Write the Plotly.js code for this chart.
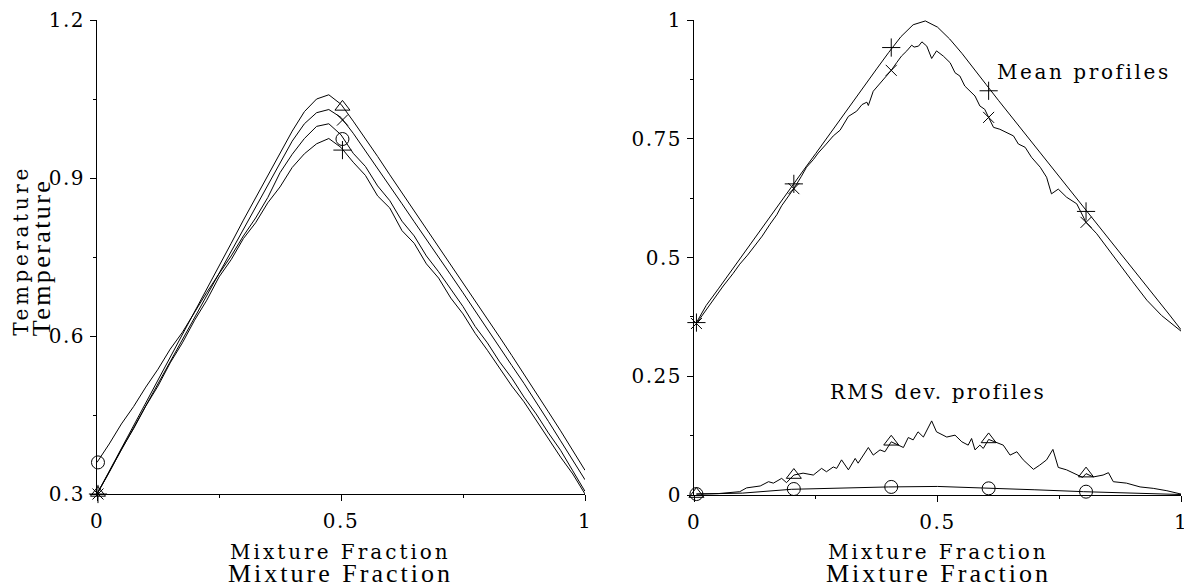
<!DOCTYPE html>
<html><head><meta charset="utf-8">
<script src="https://cdn.plot.ly/plotly-3.0.1.min.js"></script>
<style>html,body{margin:0;padding:0;background:#fff}#chart{width:1184px;height:588px}</style>
</head><body><div id="chart"></div>
<script>
// ---------- Left panel: Temperature vs Mixture Fraction ----------
const mixLeft = [0,0.025,0.05,0.075,0.1,0.125,0.15,0.175,0.2,0.225,0.25,0.275,0.3,0.325,0.35,0.375,0.4,0.425,0.45,0.475,0.5,0.525,0.55,0.575,0.6,0.625,0.65,0.675,0.7,0.725,0.75,0.775,0.8,0.825,0.85,0.875,0.9,0.925,0.95,0.975,1];
const tempTriangle = [0.3,0.343,0.387,0.43,0.473,0.516,0.56,0.603,0.646,0.69,0.733,0.776,0.82,0.862,0.905,0.948,0.989,1.026,1.05,1.058,1.04,1.008,0.975,0.941,0.906,0.872,0.838,0.803,0.769,0.735,0.701,0.666,0.632,0.598,0.563,0.528,0.492,0.456,0.42,0.383,0.345];
const tempCross = [0.3,0.342,0.384,0.426,0.468,0.51,0.552,0.594,0.636,0.678,0.72,0.762,0.804,0.846,0.888,0.93,0.97,1.003,1.024,1.03,1.015,0.985,0.952,0.918,0.885,0.851,0.817,0.784,0.75,0.716,0.682,0.647,0.613,0.579,0.544,0.51,0.475,0.438,0.401,0.364,0.327];
const tempCircle = [0.36,0.395,0.433,0.466,0.503,0.537,0.575,0.607,0.645,0.683,0.718,0.752,0.79,0.824,0.863,0.91,0.945,0.975,0.998,1.003,0.982,0.947,0.922,0.885,0.857,0.818,0.79,0.752,0.722,0.688,0.656,0.618,0.587,0.551,0.52,0.484,0.452,0.416,0.383,0.344,0.305];
const tempPlus = [0.3,0.341,0.385,0.424,0.467,0.505,0.549,0.587,0.63,0.668,0.712,0.745,0.785,0.815,0.853,0.883,0.92,0.946,0.965,0.975,0.958,0.93,0.905,0.866,0.843,0.8,0.776,0.737,0.71,0.672,0.642,0.605,0.573,0.54,0.505,0.475,0.44,0.407,0.37,0.338,0.3];
const leftMarkX = [0.002,0.503];
const markTriangleL = [0.302,1.035];
const markCrossL = [0.3,1.01];
const markCircleL = [0.36,0.974];
const markPlusL = [0.3,0.953];

// ---------- Right panel: mean and RMS profiles ----------
const mixMeanPlus = [0.005,0.025,0.05,0.075,0.1,0.125,0.15,0.175,0.2,0.225,0.25,0.275,0.3,0.325,0.35,0.375,0.4,0.425,0.45,0.475,0.5,0.525,0.55,0.575,0.6,0.625,0.65,0.675,0.7,0.725,0.75,0.775,0.8,0.825,0.85,0.875,0.9,0.925,0.95,0.975,1];
const meanPlus = [0.363,0.399,0.434,0.47,0.505,0.541,0.577,0.612,0.648,0.684,0.719,0.755,0.791,0.826,0.862,0.897,0.932,0.965,0.99,0.998,0.985,0.96,0.93,0.898,0.864,0.831,0.799,0.767,0.735,0.703,0.671,0.639,0.607,0.575,0.543,0.51,0.478,0.446,0.414,0.381,0.348];
const mixMeanCross = [0.005,0.03,0.06,0.08,0.094,0.11,0.122,0.14,0.156,0.17,0.18,0.19,0.205,0.22,0.231,0.245,0.255,0.27,0.286,0.3,0.317,0.334,0.345,0.355,0.358,0.368,0.378,0.389,0.405,0.416,0.426,0.437,0.447,0.452,0.461,0.468,0.478,0.488,0.498,0.512,0.526,0.536,0.546,0.556,0.567,0.577,0.587,0.597,0.605,0.615,0.628,0.642,0.656,0.666,0.68,0.693,0.711,0.724,0.734,0.748,0.765,0.786,0.805,0.827,0.847,0.87,0.9,0.93,0.96,1];
const meanCross = [0.361,0.397,0.44,0.466,0.486,0.505,0.521,0.545,0.57,0.59,0.609,0.623,0.645,0.67,0.69,0.706,0.72,0.737,0.756,0.768,0.797,0.808,0.822,0.827,0.82,0.85,0.862,0.876,0.894,0.91,0.924,0.935,0.947,0.943,0.945,0.954,0.945,0.919,0.935,0.924,0.91,0.889,0.882,0.861,0.851,0.84,0.819,0.812,0.795,0.774,0.77,0.763,0.756,0.739,0.732,0.711,0.69,0.669,0.634,0.644,0.627,0.613,0.574,0.55,0.522,0.49,0.45,0.41,0.378,0.345];
const mixRmsTri = [0.005,0.05,0.094,0.108,0.136,0.153,0.163,0.18,0.19,0.205,0.224,0.245,0.262,0.272,0.286,0.293,0.303,0.317,0.331,0.337,0.358,0.368,0.382,0.392,0.405,0.43,0.44,0.45,0.46,0.471,0.488,0.498,0.519,0.536,0.55,0.563,0.57,0.577,0.587,0.594,0.605,0.618,0.635,0.649,0.663,0.676,0.697,0.71,0.724,0.737,0.748,0.765,0.786,0.798,0.805,0.82,0.84,0.851,0.861,0.888,0.916,0.943,0.971,1];
const rmsTri = [0.002,0.003,0.007,0.015,0.019,0.028,0.025,0.035,0.026,0.042,0.046,0.042,0.056,0.049,0.059,0.056,0.074,0.053,0.077,0.067,0.1,0.084,0.095,0.091,0.112,0.1,0.121,0.116,0.133,0.122,0.156,0.133,0.122,0.126,0.112,0.105,0.119,0.095,0.105,0.098,0.117,0.112,0.105,0.084,0.091,0.074,0.054,0.063,0.074,0.096,0.058,0.053,0.042,0.037,0.045,0.038,0.042,0.047,0.028,0.025,0.017,0.014,0.009,0.002];
const mixRmsCirc = [0.005,0.1,0.2,0.3,0.4,0.5,0.6,0.7,0.8,0.9,1];
const rmsCirc = [0.002,0.004,0.012,0.015,0.017,0.018,0.015,0.011,0.007,0.004,0.001];
const rightMarkX = [0.005,0.205,0.405,0.605,0.805];
const markPlusR = [0.363,0.655,0.942,0.851,0.597];
const markCrossR = [0.361,0.645,0.894,0.795,0.574];
const markTriR = [0.002,0.042,0.112,0.117,0.045];
const markCircR = [0.002,0.0126,0.017,0.014,0.007];

const lineStyle = {color:'#000', width:1};
function ln(x, y, xa, ya){ return {x, y, xaxis:xa, yaxis:ya, type:'scatter', mode:'lines', line:lineStyle, hoverinfo:'skip', cliponaxis:false}; }
function mk(x, y, sym, size, xa, ya){ return {x, y, xaxis:xa, yaxis:ya, type:'scatter', mode:'markers', cliponaxis:false, hoverinfo:'skip',
  marker:{symbol:sym, size:size, color:'#000', line:{color:'#000', width:1}}}; }

const data = [
  ln(mixLeft, tempTriangle, 'x', 'y'),
  ln(mixLeft, tempCross, 'x', 'y'),
  ln(mixLeft, tempCircle, 'x', 'y'),
  ln(mixLeft, tempPlus, 'x', 'y'),
  mk(leftMarkX, markTriangleL, 'triangle-up-open', 13, 'x', 'y'),
  mk(leftMarkX, markCrossL, 'x-thin-open', 11, 'x', 'y'),
  mk(leftMarkX, markCircleL, 'circle-open', 13, 'x', 'y'),
  mk(leftMarkX, markPlusL, 'cross-thin-open', 13, 'x', 'y'),
  ln(mixMeanPlus, meanPlus, 'x2', 'y2'),
  ln(mixMeanCross, meanCross, 'x2', 'y2'),
  ln(mixRmsTri, rmsTri, 'x2', 'y2'),
  ln(mixRmsCirc, rmsCirc, 'x2', 'y2'),
  mk(rightMarkX, markPlusR, 'cross-thin-open', 13, 'x2', 'y2'),
  mk(rightMarkX, markCrossR, 'x-thin-open', 11, 'x2', 'y2'),
  mk(rightMarkX, markTriR, 'triangle-up-open', 13, 'x2', 'y2'),
  mk(rightMarkX, markCircR, 'circle-open', 13, 'x2', 'y2')
];

const W = 1184, H = 588;
const px = v => v / W, py = v => (H - v) / H;
const tickFont = {family:'DejaVu Serif', size:20, color:'#000'};
function xax(domain){ return {domain, range:[0,1], tick0:0, dtick:0.5, ticks:'outside', ticklen:6, tickwidth:1, tickcolor:'#000',
  showline:true, linecolor:'#000', linewidth:1, showgrid:false, zeroline:false, tickfont:tickFont, ticklabelstandoff:3,
  ticklabeloverflow:'allow',
  minor:{dtick:0.25, ticks:'outside', ticklen:3, tickcolor:'#000', showgrid:false}}; }
function yax(domain, range, tick0, dtick, mdtick, anchor){ return {domain, range, tick0, dtick, anchor, ticks:'outside', ticklen:6, tickwidth:1, tickcolor:'#000',
  showline:true, linecolor:'#000', linewidth:1, showgrid:false, zeroline:false, tickfont:tickFont, ticklabelstandoff:1,
  ticklabeloverflow:'allow',
  minor:{dtick:mdtick, tick0, ticks:'outside', ticklen:3, tickcolor:'#000', showgrid:false}}; }

const smallFont = {family:'DejaVu Serif', size:20, color:'#000'};
const bigFont = {family:'Liberation Serif', size:26, color:'#000'};
const annotations = [
  {text:'Temperature', x:px(21), y:py(251), textangle:-90, font:smallFont},
  {text:'Temperature', x:px(41), y:py(258), textangle:-90, font:bigFont},
  {text:'Mixture Fraction', x:px(340), y:py(552), font:smallFont},
  {text:'Mixture Fraction', x:px(340), y:py(573), font:bigFont},
  {text:'Mixture Fraction', x:px(938), y:py(552), font:smallFont},
  {text:'Mixture Fraction', x:px(938), y:py(573), font:bigFont},
  {text:'Mean profiles', x:px(1084), y:py(72), font:smallFont},
  {text:'RMS dev. profiles', x:px(938), y:py(392), font:smallFont}
].map(a => Object.assign({xref:'paper', yref:'paper', showarrow:false, xanchor:'center', yanchor:'middle'}, a));
const spacing = ['3.6px','2.4px','3px','3px','3px','3px','2.6px','2.2px'];

const layout = {
  width:W, height:H, margin:{l:0, r:0, t:0, b:0}, paper_bgcolor:'#fff', plot_bgcolor:'#fff',
  showlegend:false, font:{family:'DejaVu Serif', size:20, color:'#000'},
  xaxis: Object.assign(xax([px(97), px(585)]), {anchor:'y'}),
  yaxis: yax([py(494), py(20)], [0.3,1.2], 0.3, 0.3, 0.15, 'x'),
  xaxis2: Object.assign(xax([px(694), px(1181)]), {anchor:'y2'}),
  yaxis2: yax([py(495), py(20)], [0,1], 0, 0.25, 0.125, 'x2'),
  annotations
};

Plotly.newPlot('chart', data, layout, {staticPlot:true, displayModeBar:false}).then(gd => {
  gd.querySelectorAll('.annotation-text').forEach((t, i) => { t.style.letterSpacing = spacing[i] || '0px'; });
  gd.querySelectorAll('.xtick text, .ytick text, .x2tick text, .y2tick text').forEach(t => { t.style.letterSpacing = '1.5px'; });
});
</script>
</body></html>
